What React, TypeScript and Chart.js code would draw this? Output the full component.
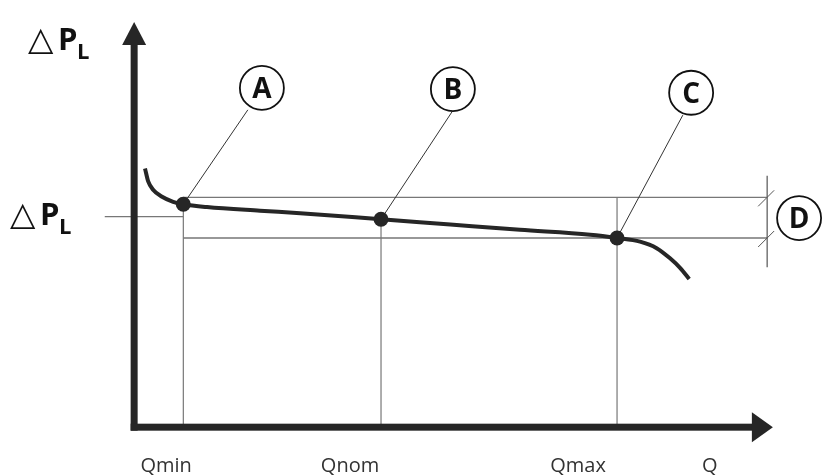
import { useEffect, useRef } from "react";
import { Chart, registerables } from "chart.js";

Chart.register(...registerables);

// ---- data (Q on x, ΔP on y, arbitrary diagram units) ----
const curveQ = [1.7, 2.2, 3.0, 4.3, 6.1, 7.7, 11.4, 19.7, 26.0, 38.65, 49.5, 60.4, 71.4, 75.6, 79.2, 81.8, 83.9, 85.5, 86.9];
const curveDP = [63.6, 60.4, 58.3, 56.7, 55.4, 54.8, 54.1, 53.2, 52.6, 51.1, 49.8, 48.5, 47.3, 46.5, 45.6, 44.0, 41.5, 39.1, 36.4];

const pointNames = ["A", "B", "C"];
const pointQ = [7.7, 38.65, 75.6];
const pointDP = [54.8, 51.1, 46.5];

const calloutNames = ["A", "B", "C", "D"];
const calloutQ = [20.0, 49.9, 87.2, 104.1];
const calloutDP = [83.4, 83.1, 82.2, 51.4];
const leaderEndQ = [17.8, 49.8, 85.9];
const leaderEndDP = [78.0, 77.6, 76.7];

const bandTopDP = 56.5;
const bandBottomDP = 46.5;
const nominalDP = 51.75;
const nominalStartQ = -4.6;
const bracketQ = 99.1;
const bracketTopDP = 61.8;
const bracketBottomDP = 39.3;

const tickLabels = ["Qmin", "Qnom", "Qmax", "Q"];
const tickLabelQ = [5.0, 33.8, 69.5, 90.1];

const xAxisEnd = 100;
const yAxisEnd = 99.6;
const xMin = -21, xMax = 108, yMin = -12, yMax = 105;

const seg = (x1: number, y1: number, x2: number, y2: number) => [
  { x: x1, y: y1 },
  { x: x2, y: y2 },
];

const diagramPlugin = {
  id: "diagram",
  afterDatasetsDraw(chart: any) {
    const { ctx } = chart;
    const x = chart.scales.x;
    const y = chart.scales.y;
    const ox = x.getPixelForValue(0);
    const oy = y.getPixelForValue(0);
    const tx = x.getPixelForValue(xAxisEnd);
    const ty = y.getPixelForValue(yAxisEnd);
    ctx.save();
    ctx.fillStyle = "#262626";
    // y axis shaft + head
    ctx.fillRect(ox - 3.5, ty + 20, 7, oy + 3.5 - (ty + 20));
    ctx.beginPath();
    ctx.moveTo(ox, ty);
    ctx.lineTo(ox + 12, ty + 23);
    ctx.lineTo(ox - 12, ty + 23);
    ctx.closePath();
    ctx.fill();
    // x axis shaft + head
    ctx.fillRect(ox - 3.5, oy - 3.5, tx - 19 - (ox - 3.5), 7);
    ctx.beginPath();
    ctx.moveTo(tx, oy);
    ctx.lineTo(tx - 21, oy - 15);
    ctx.lineTo(tx - 21, oy + 15);
    ctx.closePath();
    ctx.fill();
    // bracket slashes
    ctx.strokeStyle = "#555";
    ctx.lineWidth = 1;
    const bx = x.getPixelForValue(bracketQ);
    [bandTopDP, bandBottomDP].forEach((v) => {
      const by = y.getPixelForValue(v);
      ctx.beginPath();
      ctx.moveTo(bx - 9, by + 9);
      ctx.lineTo(bx + 7, by - 7);
      ctx.stroke();
    });
    ctx.restore();
  },
  afterDraw(chart: any) {
    const { ctx } = chart;
    const x = chart.scales.x;
    const y = chart.scales.y;
    ctx.save();
    // callout letters
    ctx.fillStyle = "#111";
    ctx.textAlign = "center";
    ctx.textBaseline = "alphabetic";
    ctx.font = 'bold 28px "Open Sans"';
    calloutNames.forEach((n, i) => {
      const cx = x.getPixelForValue(calloutQ[i]);
      const cy = y.getPixelForValue(calloutDP[i]);
      ctx.fillText(n, cx, cy + 10);
    });
    // x labels
    ctx.fillStyle = "#333";
    ctx.font = '20px "Open Sans"';
    const oy = y.getPixelForValue(0);
    tickLabels.forEach((t, i) => {
      ctx.fillText(t, x.getPixelForValue(tickLabelQ[i]), oy + 45);
    });
    // ΔP_L labels
    ctx.textAlign = "left";
    const drawDP = (left: number, base: number) => {
      ctx.fillStyle = "#111";
      ctx.font = '33px "DejaVu Sans"';
      ctx.fillText("△", left - 2, base);
      ctx.font = 'bold 31px "Open Sans"';
      ctx.fillText("P", left + 28, base);
      ctx.font = 'bold 22px "Open Sans"';
      ctx.fillText("L", left + 47, base + 9);
    };
    drawDP(30, 50);
    drawDP(12, 225);
    ctx.restore();
  },
};

export default function App() {
  const ref = useRef<HTMLCanvasElement>(null);
  useEffect(() => {
    if (!ref.current) return;
    const guide = { borderColor: "#777", borderWidth: 1.2, pointRadius: 0, clip: false as any, order: 5 };
    const chart = new Chart(ref.current, {
      type: "line",
      data: {
        datasets: [
          {
            label: "points",
            data: pointQ.map((q, i) => ({ x: q, y: pointDP[i] })),
            showLine: false,
            pointRadius: 7.5,
            pointBackgroundColor: "#262626",
            pointBorderWidth: 0,
            clip: false as any,
            order: 0,
          },
          {
            label: "callouts",
            data: calloutQ.map((q, i) => ({ x: q, y: calloutDP[i] })),
            showLine: false,
            pointRadius: 22,
            pointBackgroundColor: "#fff",
            pointBorderColor: "#111",
            pointBorderWidth: 1.8,
            clip: false as any,
            order: 1,
          },
          ...pointQ.map((q, i) => ({
            label: "leader " + pointNames[i],
            data: seg(q, pointDP[i], leaderEndQ[i], leaderEndDP[i]),
            borderColor: "#333",
            borderWidth: 1,
            pointRadius: 0,
            clip: false as any,
            order: 2,
          })),
          {
            label: "curve",
            data: curveQ.map((q, i) => ({ x: q, y: curveDP[i] })),
            borderColor: "#262626",
            borderWidth: 4,
            pointRadius: 0,
            cubicInterpolationMode: "monotone",
            clip: false as any,
            order: 3,
          },
          { label: "Qmin", data: seg(pointQ[0], 0, pointQ[0], pointDP[0]), ...guide },
          { label: "Qnom", data: seg(pointQ[1], 0, pointQ[1], pointDP[1]), ...guide },
          { label: "Qmax", data: seg(pointQ[2], 0, pointQ[2], bandTopDP), ...guide },
          { label: "band top", data: seg(pointQ[0], bandTopDP, bracketQ, bandTopDP), ...guide },
          { label: "band bottom", data: seg(pointQ[0], bandBottomDP, bracketQ, bandBottomDP), ...guide, borderColor: "#333" },
          { label: "nominal", data: seg(nominalStartQ, nominalDP, pointQ[0], nominalDP), ...guide },
          { label: "bracket", data: seg(bracketQ, bracketTopDP, bracketQ, bracketBottomDP), ...guide, borderColor: "#555" },
        ] as any,
      },
      options: {
        animation: false,
        responsive: false,
        events: [],
        layout: { padding: 0, autoPadding: false },
        plugins: { legend: { display: false }, tooltip: { enabled: false } },
        scales: {
          x: { type: "linear", min: xMin, max: xMax, display: false },
          y: { type: "linear", min: yMin, max: yMax, display: false },
        },
      },
      plugins: [diagramPlugin],
    });
    return () => chart.destroy();
  }, []);
  return (
    <div style={{ position: "fixed", left: 0, top: 0, width: 824, height: 476, background: "#fff" }}>
      <canvas ref={ref} width={824} height={476} style={{ display: "block" }} />
    </div>
  );
}
